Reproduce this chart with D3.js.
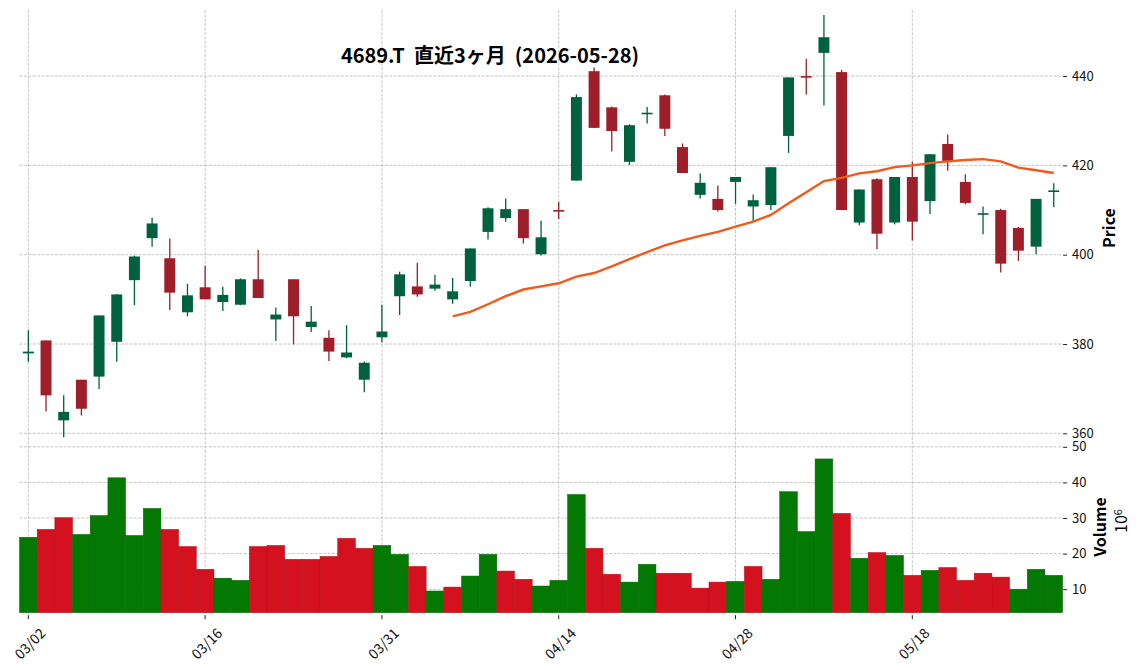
<!DOCTYPE html>
<html>
<head>
<meta charset="utf-8">
<script src="https://cdn.jsdelivr.net/npm/d3@7"></script>
<style>
  body { margin: 0; background: #fff; }
  text { font-family: "Noto Sans CJK JP", "Noto Sans", sans-serif; }
  .axis path.domain { display: none; }
  .axis line { stroke: #222; stroke-width: 1; }
  .axis text { font-size: 13px; fill: #111; }
  .grid line { stroke: #b8b8b8; stroke-width: 0.8; stroke-dasharray: 3,1.4; }
</style>
</head>
<body>
<div id="chart"></div>
<script>
// trading days, 2026-03-02 .. 2026-05-28
var dates = ["03/02","03/03","03/04","03/05","03/06","03/09","03/10","03/11","03/12","03/13",
  "03/16","03/17","03/18","03/19","03/23","03/24","03/25","03/26","03/27","03/30",
  "03/31","04/01","04/02","04/03","04/06","04/07","04/08","04/09","04/10","04/13",
  "04/14","04/15","04/16","04/17","04/20","04/21","04/22","04/23","04/24","04/27",
  "04/28","04/30","05/01","05/07","05/08","05/11","05/12","05/13","05/14","05/15",
  "05/18","05/19","05/20","05/21","05/22","05/25","05/26","05/27","05/28"];

var opens = [377.9,380.8,362.9,372.0,372.7,380.5,394.3,403.7,399.2,387.1,
  392.7,389.4,388.8,394.5,385.5,394.5,383.8,381.4,377.0,372.0,
  381.5,390.7,392.9,392.4,390.0,394.1,405.1,408.2,410.2,400.1,
  410.0,416.6,441.1,433.0,420.8,431.5,435.7,424.1,413.4,412.5,
  416.3,410.8,411.1,426.6,440.0,445.2,440.9,407.2,416.9,407.2,
  417.4,412.0,424.8,416.3,409.0,410.0,406.0,401.8,414.2];
var highs = [383.1,380.8,368.5,372.0,386.4,391.2,399.8,408.3,403.6,393.5,
  397.5,392.8,394.7,401.1,388.2,394.5,388.5,383.1,384.2,376.1,
  388.8,396.2,398.2,395.5,394.8,401.4,410.6,412.6,410.2,407.6,
  411.8,435.9,441.9,433.2,429.2,433.1,435.9,424.9,418.2,415.5,
  417.4,413.5,419.6,439.7,443.9,453.7,441.4,414.6,417.1,417.4,
  420.8,422.5,426.9,418.0,410.8,410.3,406.2,412.5,416.0];
var lows = [376.0,364.9,359.1,364.0,369.9,376.0,388.7,401.8,387.6,386.2,
  390.0,387.4,388.7,390.3,380.7,379.9,382.7,376.2,376.8,369.2,
  380.4,386.5,390.6,391.9,389.0,392.8,403.4,407.4,402.5,399.8,
  408.0,416.6,428.4,423.1,420.1,429.4,426.6,418.3,412.6,409.7,
  411.4,407.4,410.0,422.8,435.9,433.4,410.0,406.6,401.2,406.8,
  403.2,409.1,418.8,411.3,404.6,396.0,398.6,400.1,410.6];
var closes = [378.3,368.5,364.8,365.5,386.4,391.1,399.6,407.0,391.5,390.9,
  390.0,391.0,394.5,390.3,386.6,386.2,385.0,378.3,378.1,375.8,
  382.8,395.6,391.1,393.3,391.8,401.4,410.4,410.2,403.7,403.9,
  409.9,435.3,428.4,427.7,429.0,431.8,428.2,418.3,416.1,410.0,
  417.4,412.2,419.6,439.7,439.9,448.7,410.0,414.6,404.7,417.4,
  407.4,422.5,421.0,411.6,409.3,398.0,400.9,412.5,414.4];
// volume, millions of shares
var volumes = [24.6,26.8,30.1,25.4,30.7,41.3,25.1,32.7,26.8,22.0,
  15.6,13.1,12.5,22.0,22.3,18.4,18.4,19.2,24.3,21.5,
  22.3,19.8,16.4,9.5,10.6,13.7,19.8,15.1,12.8,10.9,
  12.5,36.6,21.5,14.2,12.0,17.0,14.5,14.5,10.3,12.0,
  12.2,16.4,12.8,37.4,26.2,46.6,31.3,18.7,20.3,19.5,
  13.9,15.3,16.1,12.5,14.5,13.4,10.0,15.6,13.9];
// 25-day moving average as drawn (starts at 04/06)
var ma25 = [null,null,null,null,null,null,null,null,null,null,
  null,null,null,null,null,null,null,null,null,null,
  null,null,null,null,386.2,387.2,388.9,390.7,392.2,392.9,
  393.6,395.1,395.9,397.4,399.0,400.6,402.1,403.2,404.2,405.1,
  406.3,407.4,408.9,411.5,414.0,416.5,417.2,418.2,418.7,419.6,
  420.0,420.5,420.9,421.2,421.4,420.9,419.5,418.9,418.3];

var tickDates = ["03/02","03/16","03/31","04/14","04/28","05/18"];
var priceTicks = [360,380,400,420,440];
var volTicks = [10,20,30,40,50];

var W = 1144, H = 670;
var left = 19.5, right = 1062.6;
var priceTop = 10, priceBottom = 438;
var volTop = 442.2, volBottom = 612.7;

var upCandle = "#00613e", downCandle = "#9e1f29";
var upVol = "#037803", downVol = "#d4111e";

var svg = d3.select("#chart").append("svg")
    .attr("width", W).attr("height", H);

var x = d3.scaleBand().domain(dates).range([left, right]).paddingInner(0).paddingOuter(0);
var bw = x.bandwidth();
function cx(d) { return x(d) + bw / 2; }

var y = d3.scaleLinear().domain([358.95, 454.8]).range([priceBottom, priceTop]);
var yv = d3.scaleLinear().domain([3.4, 51.3]).range([volBottom, volTop]);

var rows = dates.map(function(d, i) {
  return {date: d, o: opens[i], h: highs[i], l: lows[i], c: closes[i], v: volumes[i], ma: ma25[i],
          volUp: i === 0 ? closes[i] >= opens[i] : closes[i] >= closes[i - 1]};
});

// grid
var grid = svg.append("g").attr("class", "grid");
grid.selectAll(".hp").data(priceTicks).enter().append("line")
    .attr("x1", left).attr("x2", right)
    .attr("y1", function(d) { return y(d); }).attr("y2", function(d) { return y(d); });
grid.selectAll(".hv").data(volTicks).enter().append("line")
    .attr("x1", left).attr("x2", right)
    .attr("y1", function(d) { return yv(d); }).attr("y2", function(d) { return yv(d); });
grid.selectAll(".vx").data(tickDates).enter().append("line")
    .attr("x1", function(d) { return cx(d); }).attr("x2", function(d) { return cx(d); })
    .attr("y1", priceTop).attr("y2", volBottom);

// volume bars
svg.append("g").selectAll("rect").data(rows).enter().append("rect")
    .attr("x", function(d) { return x(d.date); })
    .attr("width", bw)
    .attr("y", function(d) { return yv(d.v); })
    .attr("height", function(d) { return volBottom - yv(d.v); })
    .attr("fill", function(d) { return d.volUp ? upVol : downVol; })
    .attr("stroke", function(d) { return d.volUp ? "#056a05" : "#b80f1a"; })
    .attr("stroke-width", 0.5);

// candles
var candles = svg.append("g");
candles.selectAll("line").data(rows).enter().append("line")
    .attr("x1", function(d) { return cx(d.date); }).attr("x2", function(d) { return cx(d.date); })
    .attr("y1", function(d) { return y(d.h); }).attr("y2", function(d) { return y(d.l); })
    .attr("stroke", function(d) { return d.c >= d.o ? upCandle : downCandle; })
    .attr("stroke-width", 1.3);
candles.selectAll("rect").data(rows).enter().append("rect")
    .attr("x", function(d) { return cx(d.date) - bw * 0.31; })
    .attr("width", bw * 0.62)
    .attr("y", function(d) { return y(Math.max(d.o, d.c)); })
    .attr("height", function(d) { return Math.max(1.6, Math.abs(y(d.o) - y(d.c))); })
    .attr("fill", function(d) { return d.c >= d.o ? upCandle : downCandle; });

// moving average
var maLine = d3.line()
    .defined(function(d) { return d.ma !== null; })
    .x(function(d) { return cx(d.date); })
    .y(function(d) { return y(d.ma); });
svg.append("path").datum(rows)
    .attr("fill", "none")
    .attr("stroke", "#f05a1c")
    .attr("stroke-width", 2.4)
    .attr("d", maLine);

// right axes
svg.append("g").attr("class", "axis")
    .attr("transform", "translate(" + (right + 0.5) + ",0)")
    .call(d3.axisRight(y).tickValues(priceTicks).tickSize(4).tickPadding(5));
svg.append("g").attr("class", "axis")
    .attr("transform", "translate(" + (right + 0.5) + ",0)")
    .call(d3.axisRight(yv).tickValues(volTicks).tickSize(4).tickPadding(5));

// x axis
svg.append("g").attr("class", "axis")
    .attr("transform", "translate(0," + (volBottom + 2.5) + ")")
    .call(d3.axisBottom(x).tickValues(tickDates).tickSize(4).tickFormat(""));
svg.append("g").selectAll("text").data(tickDates).enter().append("text")
    .attr("transform", function(d) { return "translate(" + (cx(d) + 1) + ",643) rotate(-45)"; })
    .attr("text-anchor", "middle")
    .attr("dominant-baseline", "central")
    .style("font-size", "14px")
    .style("fill", "#111")
    .text(function(d) { return d; });

// axis labels
svg.append("text")
    .attr("transform", "translate(1115,228) rotate(-90)")
    .attr("text-anchor", "middle")
    .style("font-size", "16px").style("font-weight", "bold")
    .text("Price");
svg.append("text")
    .attr("transform", "translate(1106,527) rotate(-90)")
    .attr("text-anchor", "middle")
    .style("font-size", "16px").style("font-weight", "bold")
    .text("Volume");
var exp = svg.append("text")
    .attr("transform", "translate(1127,521) rotate(-90)")
    .attr("text-anchor", "middle")
    .style("font-size", "16px");
exp.append("tspan").text("10");
exp.append("tspan").attr("dy", "-0.5em").style("font-size", "11px").text("6");

// title
svg.append("text")
    .attr("x", 490).attr("y", 63)
    .attr("text-anchor", "middle")
    .style("white-space", "pre")
    .style("font-size", "20px").style("font-weight", "bold")
    .text("4689.T  直近3ヶ月  (2026-05-28)");
</script>
</body>
</html>
